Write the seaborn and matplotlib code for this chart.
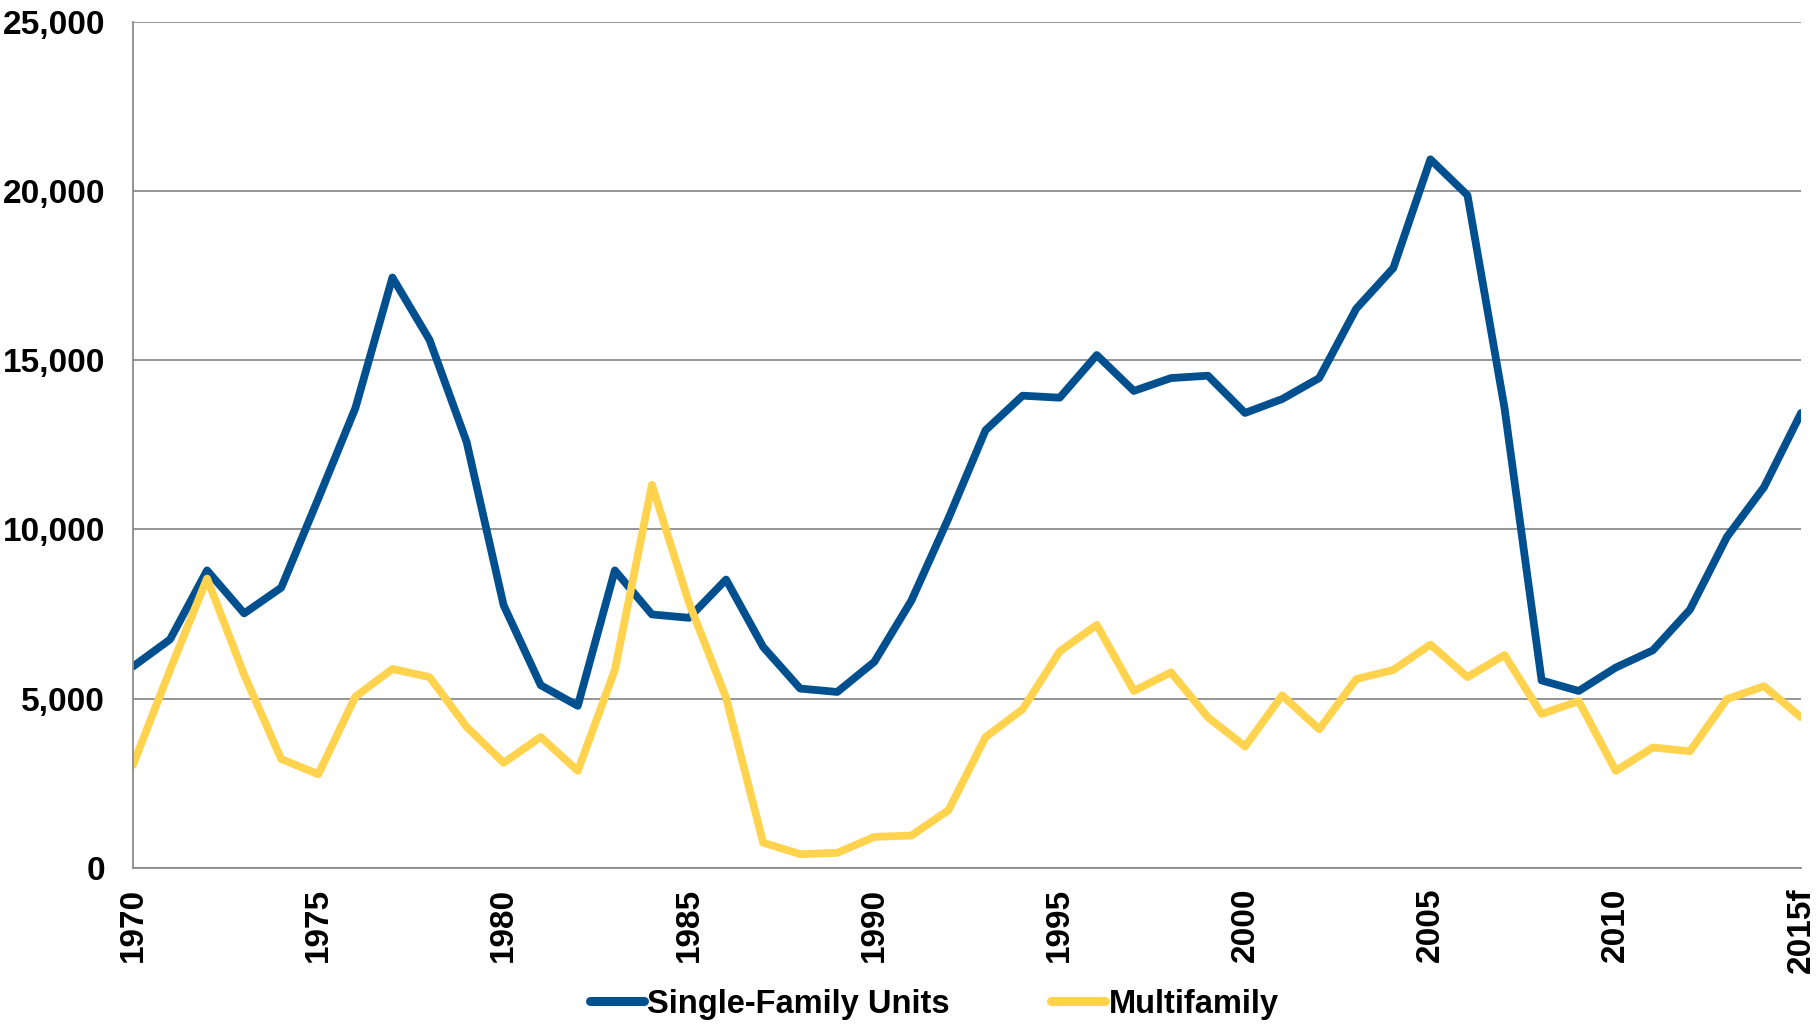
import numpy as np
import pandas as pd
import seaborn as sns
import matplotlib.pyplot as plt
from matplotlib.ticker import FuncFormatter, MultipleLocator

years = list(range(1970, 2016))

single_family = [5950, 6750, 8790, 7520, 8280, 10910, 13580, 17440, 15600, 12590,
                 7760, 5400, 4790, 8790, 7490, 7390, 8520, 6530, 5300, 5200,
                 6090, 7900, 10330, 12930, 13950, 13890, 15150, 14090, 14470, 14540,
                 13440, 13850, 14470, 16520, 17720, 20930, 19870, 13580, 5540, 5230,
                 5920, 6430, 7630, 9780, 11250, 13440]

multifamily = [3040, 5850, 8550, 5710, 3220, 2770, 5060, 5880, 5640, 4170,
               3110, 3870, 2870, 5850, 11320, 7830, 5030, 750, 410, 450,
               920, 960, 1710, 3870, 4690, 6400, 7180, 5230, 5780, 4450,
               3590, 5100, 4100, 5580, 5850, 6600, 5640, 6290, 4550, 4930,
               2870, 3560, 3450, 4990, 5370, 4450]

series_names = ["Single-Family Units", "Multifamily"]
colors = ["#00508F", "#FFD34E"]
year_labels = ["1970", "1975", "1980", "1985", "1990", "1995", "2000", "2005", "2010", "2015f"]

df = pd.DataFrame({
    "year": years * 2,
    "units": single_family + multifamily,
    "series": [series_names[0]] * len(years) + [series_names[1]] * len(years),
})

sns.set_style("white")
plt.rcParams["font.family"] = ["Liberation Sans", "DejaVu Sans"]
plt.rcParams["font.weight"] = "bold"
plt.rcParams["text.color"] = "black"
plt.rcParams["xtick.labelcolor"] = "black"
plt.rcParams["ytick.labelcolor"] = "black"

fig = plt.figure(figsize=(18.16, 10.24), dpi=100)
ax = fig.add_axes([0.0732, 0.1523, 0.9186, 0.8267])

sns.lineplot(data=df, x="year", y="units", hue="series", palette=colors,
             linewidth=5.6, ax=ax, legend=False, solid_capstyle="round")

ax.set_xlim(1970, 2015)
ax.set_ylim(0, 25000)
ax.yaxis.set_major_locator(MultipleLocator(5000))
ax.yaxis.set_major_formatter(FuncFormatter(lambda v, p: f"{int(v):,}"))
ax.grid(axis="y", color="#8c8c8c", linewidth=1.3)
ax.set_axisbelow(True)

ax.set_xticks(list(range(1970, 2016, 5)))
ax.set_xticklabels(year_labels, rotation=90, fontweight="bold", fontsize=24)
ax.set_xticks(years, minor=True)
ax.tick_params(axis="x", which="both", direction="in", length=9, width=1.3,
               color="#8c8c8c", labelcolor="black", pad=14)
ax.tick_params(axis="y", length=0, pad=20, labelsize=24, labelcolor="black")
for lab in ax.get_yticklabels():
    lab.set_fontweight("bold")

for side in ["top", "right"]:
    ax.spines[side].set_visible(False)
for side in ["left", "bottom"]:
    ax.spines[side].set_color("#8c8c8c")
    ax.spines[side].set_linewidth(1.3)

ax.set_xlabel("")
ax.set_ylabel("")

handles = [plt.Line2D([], [], color=c, linewidth=6.5, solid_capstyle="round") for c in colors]
leg = fig.legend(handles, series_names, loc="center", bbox_to_anchor=(0.5145, 0.0195),
                 ncol=2, frameon=False, prop={"size": 23.5, "weight": "bold"},
                 handlelength=1.65, handletextpad=0.12, columnspacing=3.1)
for t in leg.get_texts():
    t.set_color("black")

fig.savefig("out.png", dpi=100)
